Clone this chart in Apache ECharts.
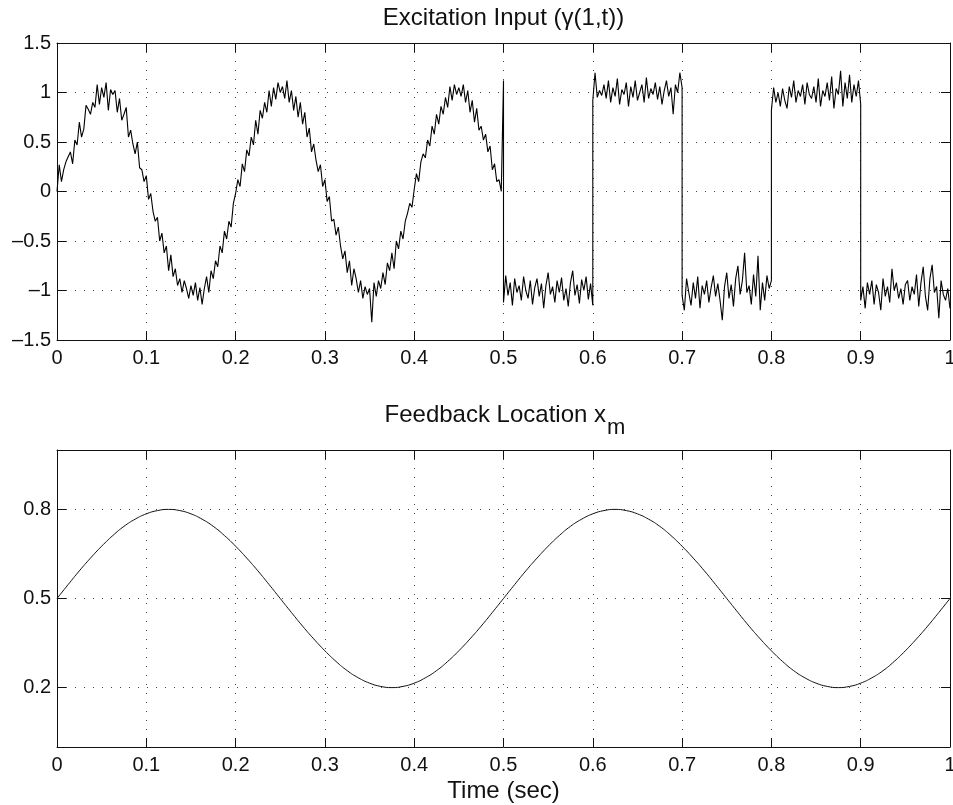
<!DOCTYPE html>
<html>
<head>
<meta charset="utf-8">
<script src="https://cdn.jsdelivr.net/npm/echarts@6/dist/echarts.min.js"></script>
<style>
  html, body { margin: 0; padding: 0; background: #fff; }
  #chart { width: 953px; height: 805px; }
</style>
</head>
<body>
<div id="chart"></div>
<script>
// noisy sine part, samples from t = 0 to t = 0.5
const sineNoisy = [
  0.00, 0.27, 0.10, 0.22, 0.30, 0.35, 0.40, 0.28, 0.52, 0.47,
  0.70, 0.55, 0.63, 0.87, 0.83, 0.78, 0.90, 0.85, 1.08, 0.88,
  1.05, 0.95, 1.10, 0.82, 1.03, 0.98, 1.02, 0.80, 0.94, 0.72,
  0.78, 0.85, 0.55, 0.62, 0.48, 0.38, 0.50, 0.24, 0.22, 0.10,
  0.16, -0.08, -0.02, -0.20, -0.30, -0.26, -0.50, -0.42, -0.62, -0.55,
  -0.80, -0.64, -0.86, -0.78, -0.95, -0.88, -1.02, -0.90, -0.98, -1.08,
  -0.95, -1.05, -0.92, -1.10, -0.97, -1.14, -0.98, -0.86, -1.02, -0.80,
  -0.88, -0.70, -0.76, -0.55, -0.62, -0.40, -0.48, -0.30, -0.36, -0.12,
  -0.02, 0.12, 0.05, 0.28, 0.20, 0.42, 0.36, 0.55, 0.47, 0.72,
  0.58, 0.82, 0.74, 0.90, 0.80, 1.02, 0.86, 1.05, 0.93, 1.10,
  1.00, 1.06, 0.94, 1.12, 0.90, 1.02, 0.82, 0.96, 0.75, 0.90,
  0.68, 0.80, 0.55, 0.64, 0.40, 0.48, 0.32, 0.20, 0.27, 0.05,
  0.12, -0.10, -0.05, -0.30, -0.28, -0.44, -0.36, -0.55, -0.68, -0.60,
  -0.82, -0.70, -0.95, -0.78, -0.88, -1.02, -0.90, -1.08, -0.96, -1.04,
  -0.98, -1.32, -0.92, -1.06, -0.90, -0.98, -0.82, -0.94, -0.72, -0.80,
  -0.62, -0.78, -0.50, -0.58, -0.40, -0.48, -0.30, -0.22, -0.12, -0.16,
  0.02, 0.18, 0.10, 0.30, 0.38, 0.34, 0.52, 0.46, 0.66, 0.58,
  0.78, 0.68, 0.86, 0.78, 0.95, 0.85, 1.06, 0.92, 1.08, 0.98,
  1.05, 0.96, 1.08, 0.90, 1.02, 0.80, 0.92, 0.70, 0.84, 0.62,
  0.66, 0.52, 0.58, 0.40, 0.46, 0.22, 0.28, 0.10, 0.12, 0.00,
  1.12
];
// square wave parts, 0.1 s each
const square1 = [-1.12, -0.85, -1.05, -0.92, -1.15, -0.88, -1.02, -0.95, -1.10, -0.86, -1.00, -1.08, -0.90, -1.14, -0.97, -0.88, -1.06, -0.93, -1.18, -0.95, -0.82, -1.04, -0.96, -1.12, -0.90, -1.02, -0.87, -1.10, -0.98, -1.16, -0.92, -0.80, -1.05, -0.94, -1.13, -0.89, -1.00, -0.86, -1.09, -0.93, -1.15];
const square2 = [0.92, 1.20, 0.95, 1.02, 0.97, 1.08, 0.94, 1.12, 0.90, 1.05, 0.96, 1.14, 0.88, 1.03, 0.98, 1.10, 0.86, 1.06, 0.95, 1.12, 0.92, 1.00, 1.08, 0.90, 1.15, 0.94, 1.04, 0.98, 1.10, 0.93, 1.06, 0.88, 1.02, 1.12, 0.96, 1.05, 0.78, 1.08, 1.00, 1.20, 1.05];
const square3 = [-1.05, -1.20, -0.88, -1.02, -1.15, -0.92, -1.08, -0.86, -1.18, -0.95, -1.04, -0.90, -1.12, -0.97, -0.85, -1.06, -0.93, -1.10, -1.30, -0.96, -0.82, -1.08, -0.94, -1.16, -0.88, -0.75, -1.04, -0.90, -0.62, -1.02, -0.95, -1.14, -0.84, -1.06, -0.65, -1.20, -0.92, -1.10, -0.85, -0.98, -0.90];
const square4 = [0.82, 1.05, 0.90, 1.00, 0.86, 1.04, 0.92, 0.84, 1.06, 0.95, 1.12, 0.90, 1.02, 0.96, 1.08, 0.88, 1.10, 0.98, 0.94, 1.06, 0.90, 1.14, 0.86, 1.02, 0.96, 1.10, 0.92, 1.16, 0.84, 1.04, 0.98, 1.22, 0.86, 1.10, 0.94, 1.18, 0.90, 1.08, 0.96, 1.12, 0.88];
const square5 = [-1.10, -0.96, -1.18, -0.92, -1.04, -0.90, -1.14, -0.94, -1.02, -1.20, -0.88, -1.06, -0.96, -1.12, -0.78, -1.00, -0.92, -1.08, -0.98, -1.14, -0.94, -0.90, -1.10, -0.96, -1.04, -0.84, -1.16, -0.92, -0.76, -1.06, -1.20, -0.88, -0.74, -1.02, -0.96, -1.28, -0.90, -1.04, -1.10, -0.98, -1.18];

// feedback location, read every 0.0125 s
const feedbackLoc = [
  0.500, 0.547, 0.593, 0.636, 0.676, 0.712, 0.743, 0.767, 0.785, 0.796,
  0.800, 0.796, 0.785, 0.767, 0.743, 0.712, 0.676, 0.636, 0.593, 0.547,
  0.500, 0.453, 0.407, 0.364, 0.324, 0.288, 0.257, 0.233, 0.215, 0.204,
  0.200, 0.204, 0.215, 0.233, 0.257, 0.288, 0.324, 0.364, 0.407, 0.453,
  0.500, 0.547, 0.593, 0.636, 0.676, 0.712, 0.743, 0.767, 0.785, 0.796,
  0.800, 0.796, 0.785, 0.767, 0.743, 0.712, 0.676, 0.636, 0.593, 0.547,
  0.500, 0.453, 0.407, 0.364, 0.324, 0.288, 0.257, 0.233, 0.215, 0.204,
  0.200, 0.204, 0.215, 0.233, 0.257, 0.288, 0.324, 0.364, 0.407, 0.453,
  0.500
];
const feedbackTicks = [0.2, 0.5, 0.8];

// spread the samples of one piece evenly between t0 and t1
function toPairs(values, t0, t1) {
  const step = (t1 - t0) / (values.length - 1);
  return values.map((v, i) => [t0 + i * step, v]);
}

const excitationData = [].concat(
  toPairs(sineNoisy, 0, 0.5),
  toPairs(square1, 0.5, 0.6),
  toPairs(square2, 0.6, 0.7),
  toPairs(square3, 0.7, 0.8),
  toPairs(square4, 0.8, 0.9),
  toPairs(square5, 0.9, 1.0)
);
const feedbackData = toPairs(feedbackLoc, 0, 1);

const FONT = "'Liberation Sans', Arial, Helvetica, sans-serif";
const gridDots = { color: "#444", width: 1, type: [1, 8] };

function xAxisFor(gridIndex, top) {
  return {
    type: "value",
    gridIndex: gridIndex,
    position: top ? "top" : "bottom",
    min: 0,
    max: 1,
    interval: 0.1,
    axisLine: { show: true, onZero: false, lineStyle: { color: "#111", width: 1 } },
    axisTick: { show: true, inside: true, length: 9, lineStyle: { color: "#111" } },
    axisLabel: { show: !top, color: "#111", fontSize: 20, fontFamily: FONT, margin: 8 },
    splitLine: { show: !top, lineStyle: gridDots }
  };
}

function yAxisFor(gridIndex, right, extra) {
  return Object.assign({
    type: "value",
    gridIndex: gridIndex,
    position: right ? "right" : "left",
    axisLine: { show: true, onZero: false, lineStyle: { color: "#111", width: 1 } },
    axisTick: { show: true, inside: true, length: 9, lineStyle: { color: "#111" } },
    axisLabel: {
      show: !right, color: "#111", fontSize: 20, fontFamily: FONT, margin: 6,
      formatter: v => String(v).replace("-", "\u2013")
    },
    splitLine: { show: !right, lineStyle: gridDots }
  }, extra);
}

const bottomY = { min: 0, max: 1 };

const chart = echarts.init(document.getElementById("chart"));
chart.setOption({
  animation: false,
  backgroundColor: "#fff",
  grid: [
    { left: 57, top: 43, width: 893, height: 297, outerBoundsMode: "none", containLabel: false },
    { left: 57, top: 450, width: 893, height: 297, outerBoundsMode: "none", containLabel: false }
  ],
  xAxis: [xAxisFor(0, false), xAxisFor(0, true), xAxisFor(1, false), xAxisFor(1, true)],
  yAxis: [
    yAxisFor(0, false, { min: -1.5, max: 1.5, interval: 0.5 }),
    yAxisFor(0, true, { min: -1.5, max: 1.5, interval: 0.5 }),
    (function () {
      const a = yAxisFor(1, false, bottomY);
      a.axisTick.customValues = feedbackTicks;
      a.axisLabel.customValues = feedbackTicks;
      return a;
    })(),
    (function () {
      const a = yAxisFor(1, true, bottomY);
      a.axisTick.customValues = feedbackTicks;
      a.axisLabel.customValues = feedbackTicks;
      return a;
    })()
  ],
  series: [
    {
      name: "Excitation Input",
      type: "line",
      xAxisIndex: 0,
      yAxisIndex: 0,
      data: excitationData,
      showSymbol: false,
      lineStyle: { color: "#000", width: 1.1 }
    },
    {
      name: "Feedback Location",
      type: "line",
      xAxisIndex: 2,
      yAxisIndex: 2,
      data: feedbackData,
      smooth: true,
      showSymbol: false,
      lineStyle: { color: "#111", width: 1 }
    }
  ],
  graphic: [
    {
      type: "text", x: 503.5, y: 18,
      style: { text: "Excitation Input (\u03b3(1,t))", font: "24px " + FONT, fill: "#111", align: "center", verticalAlign: "middle" }
    },
    {
      type: "text", x: 606, y: 415,
      style: { text: "Feedback Location x", font: "24px " + FONT, fill: "#111", align: "right", verticalAlign: "middle" }
    },
    {
      type: "text", x: 607, y: 428,
      style: { text: "m", font: "22px " + FONT, fill: "#111", align: "left", verticalAlign: "middle" }
    },
    {
      type: "text", x: 503.5, y: 791,
      style: { text: "Time (sec)", font: "24px " + FONT, fill: "#111", align: "center", verticalAlign: "middle" }
    }
  ]
});
</script>
</body>
</html>
